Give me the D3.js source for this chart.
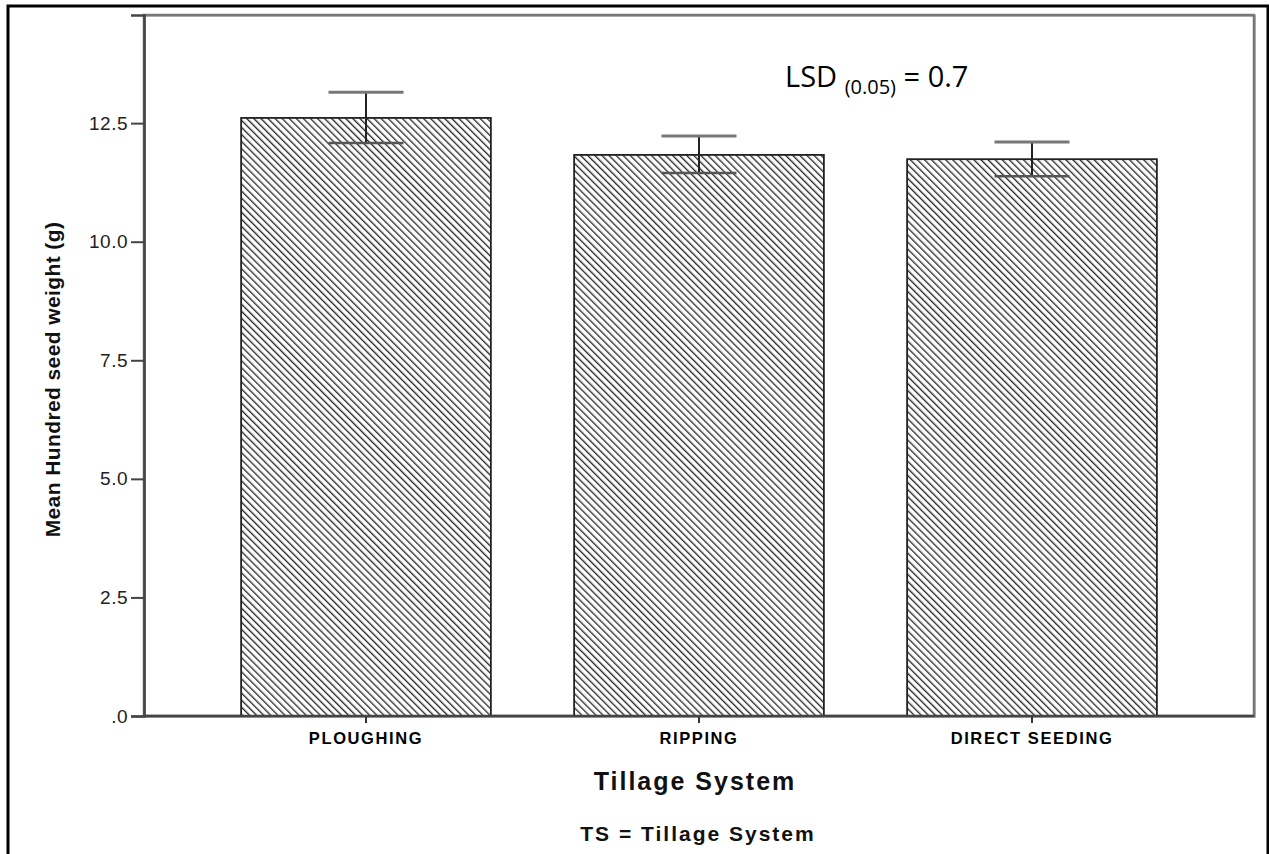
<!DOCTYPE html>
<html lang="en">
<head>
  <meta charset="UTF-8">
  <title>Mean Hundred seed weight by Tillage System</title>
  <script src="https://d3js.org/d3.v7.min.js"></script>
  <style>
    body { margin: 0; background: #fff; }
    svg { display: block; }
    svg text { font-family: "Liberation Sans", Arial, sans-serif; }
  </style>
</head>
<body>
  <div id="chart"></div>

  <script>
    // Data
    const categories = ["PLOUGHING", "RIPPING", "DIRECT SEEDING"];
    const means = [12.61, 11.83, 11.74];
    const errUpper = [13.15, 12.23, 12.10];
    const errLower = [12.08, 11.45, 11.38];
    const yTicks = [0, 2.5, 5.0, 7.5, 10.0, 12.5];

    const width = 1269;
    const height = 854;

    // plot box
    const box = { left: 144, top: 15, right: 1254, bottom: 716 };

    const svg = d3.select("#chart")
      .append("svg")
      .attr("width", width)
      .attr("height", height);

    // hatch pattern (lines running top-left to bottom-right)
    const defs = svg.append("defs");
    const pat = defs.append("pattern")
      .attr("id", "hatch")
      .attr("patternUnits", "userSpaceOnUse")
      .attr("width", 5)
      .attr("height", 5)
      .attr("patternTransform", "rotate(-45)");
    pat.append("rect").attr("width", 5).attr("height", 5).attr("fill", "#fff");
    pat.append("line")
      .attr("x1", 0).attr("y1", 0).attr("x2", 0).attr("y2", 5)
      .attr("stroke", "#2a2a2a").attr("stroke-width", 2.7);

    // outer frame
    svg.append("rect")
      .attr("x", 8).attr("y", 6)
      .attr("width", 1260).attr("height", 860)
      .attr("fill", "none")
      .attr("stroke", "#000")
      .attr("stroke-width", 3);

    // scales
    const x = d3.scaleBand()
      .domain(categories)
      .range([199.5, 1198.5])
      .paddingInner(0.25)
      .paddingOuter(0.125);

    const y = d3.scaleLinear()
      .domain([0, 14.78])
      .range([box.bottom, box.top]);

    // plot box (grey with slight shadow)
    svg.append("rect")
      .attr("x", box.left + 1).attr("y", box.top + 1)
      .attr("width", box.right - box.left).attr("height", box.bottom - box.top)
      .attr("fill", "none").attr("stroke", "#bbb").attr("stroke-width", 2);
    svg.append("rect")
      .attr("x", box.left).attr("y", box.top)
      .attr("width", box.right - box.left).attr("height", box.bottom - box.top)
      .attr("fill", "none").attr("stroke", "#777").attr("stroke-width", 2.5);

    // bars
    svg.selectAll(".bar")
      .data(categories)
      .enter()
      .append("rect")
      .attr("class", "bar")
      .attr("x", d => x(d))
      .attr("y", (d, i) => y(means[i]))
      .attr("width", x.bandwidth())
      .attr("height", (d, i) => y(0) - y(means[i]))
      .attr("fill", "url(#hatch)")
      .attr("stroke", "#222")
      .attr("stroke-width", 1.8);

    // error bars
    const capW = 75;
    const eb = svg.selectAll(".err")
      .data(categories)
      .enter()
      .append("g")
      .attr("class", "err");
    eb.append("line")
      .attr("x1", d => x(d) + x.bandwidth() / 2)
      .attr("x2", d => x(d) + x.bandwidth() / 2)
      .attr("y1", (d, i) => y(errUpper[i]))
      .attr("y2", (d, i) => y(errLower[i]))
      .attr("stroke", "#222").attr("stroke-width", 2);
    eb.append("line")
      .attr("x1", d => x(d) + x.bandwidth() / 2 - capW / 2)
      .attr("x2", d => x(d) + x.bandwidth() / 2 + capW / 2)
      .attr("y1", (d, i) => y(errUpper[i]))
      .attr("y2", (d, i) => y(errUpper[i]))
      .attr("stroke", "#777").attr("stroke-width", 3);
    eb.append("line")
      .attr("x1", d => x(d) + x.bandwidth() / 2 - capW / 2)
      .attr("x2", d => x(d) + x.bandwidth() / 2 + capW / 2)
      .attr("y1", (d, i) => y(errLower[i]))
      .attr("y2", (d, i) => y(errLower[i]))
      .attr("stroke", "#555").attr("stroke-width", 2.5);

    // y axis
    const yAxis = svg.append("g")
      .attr("transform", `translate(${box.left},0)`)
      .call(d3.axisLeft(y)
        .tickValues(yTicks)
        .tickSize(13)
        .tickPadding(3)
        .tickFormat(d => d === 0 ? ".0" : d3.format(".1f")(d)));
    yAxis.attr("font-family", null);
    yAxis.select(".domain").attr("stroke", "#444").attr("stroke-width", 2.5);
    yAxis.selectAll(".tick line").attr("stroke", "#444").attr("stroke-width", 2);
    yAxis.selectAll(".tick text")
      .attr("fill", "#222")
      .style("font-size", "19px")
      .style("letter-spacing", "0.5px");

    // x axis
    const xAxis = svg.append("g")
      .attr("transform", `translate(0,${box.bottom})`)
      .call(d3.axisBottom(x).tickSize(7).tickPadding(9));
    xAxis.attr("font-family", null);
    xAxis.select(".domain").remove();
    xAxis.selectAll(".tick line").attr("stroke", "#333").attr("stroke-width", 2);
    xAxis.selectAll(".tick text")
      .attr("fill", "#000")
      .style("font-size", "16.5px")
      .style("font-weight", "bold")
      .style("letter-spacing", "1.6px");

    // redraw bottom axis line across the box
    svg.append("line")
      .attr("x1", box.left).attr("x2", box.right)
      .attr("y1", box.bottom).attr("y2", box.bottom)
      .attr("stroke", "#444").attr("stroke-width", 2.5);

    // axis titles
    svg.append("text")
      .attr("transform", `translate(60,${(box.top + box.bottom) / 2 + 14}) rotate(-90)`)
      .attr("text-anchor", "middle")
      .style("font-size", "21px")
      .style("font-weight", "bold")
      .style("letter-spacing", "0.4px")
      .attr("fill", "#111")
      .text("Mean Hundred seed weight (g)");

    svg.append("text")
      .attr("x", 695).attr("y", 790)
      .attr("text-anchor", "middle")
      .style("font-size", "25px")
      .style("font-weight", "bold")
      .style("letter-spacing", "2px")
      .attr("fill", "#111")
      .text("Tillage System");

    svg.append("text")
      .attr("x", 698).attr("y", 841)
      .attr("text-anchor", "middle")
      .style("font-size", "21px")
      .style("font-weight", "bold")
      .style("letter-spacing", "2px")
      .attr("fill", "#111")
      .text("TS = Tillage System");

    // LSD annotation
    const lsd = svg.append("text")
      .attr("x", 785).attr("y", 87)
      .style("font-family", "'Open Sans', 'Liberation Sans', sans-serif")
      .style("font-size", "29px")
      .attr("fill", "#000");
    lsd.append("tspan").text("LSD ");
    lsd.append("tspan").attr("dy", 7).style("font-size", "20px").text("(0.05)");
    lsd.append("tspan").attr("dy", -7).text(" = 0.7");
  </script>
</body>
</html>
